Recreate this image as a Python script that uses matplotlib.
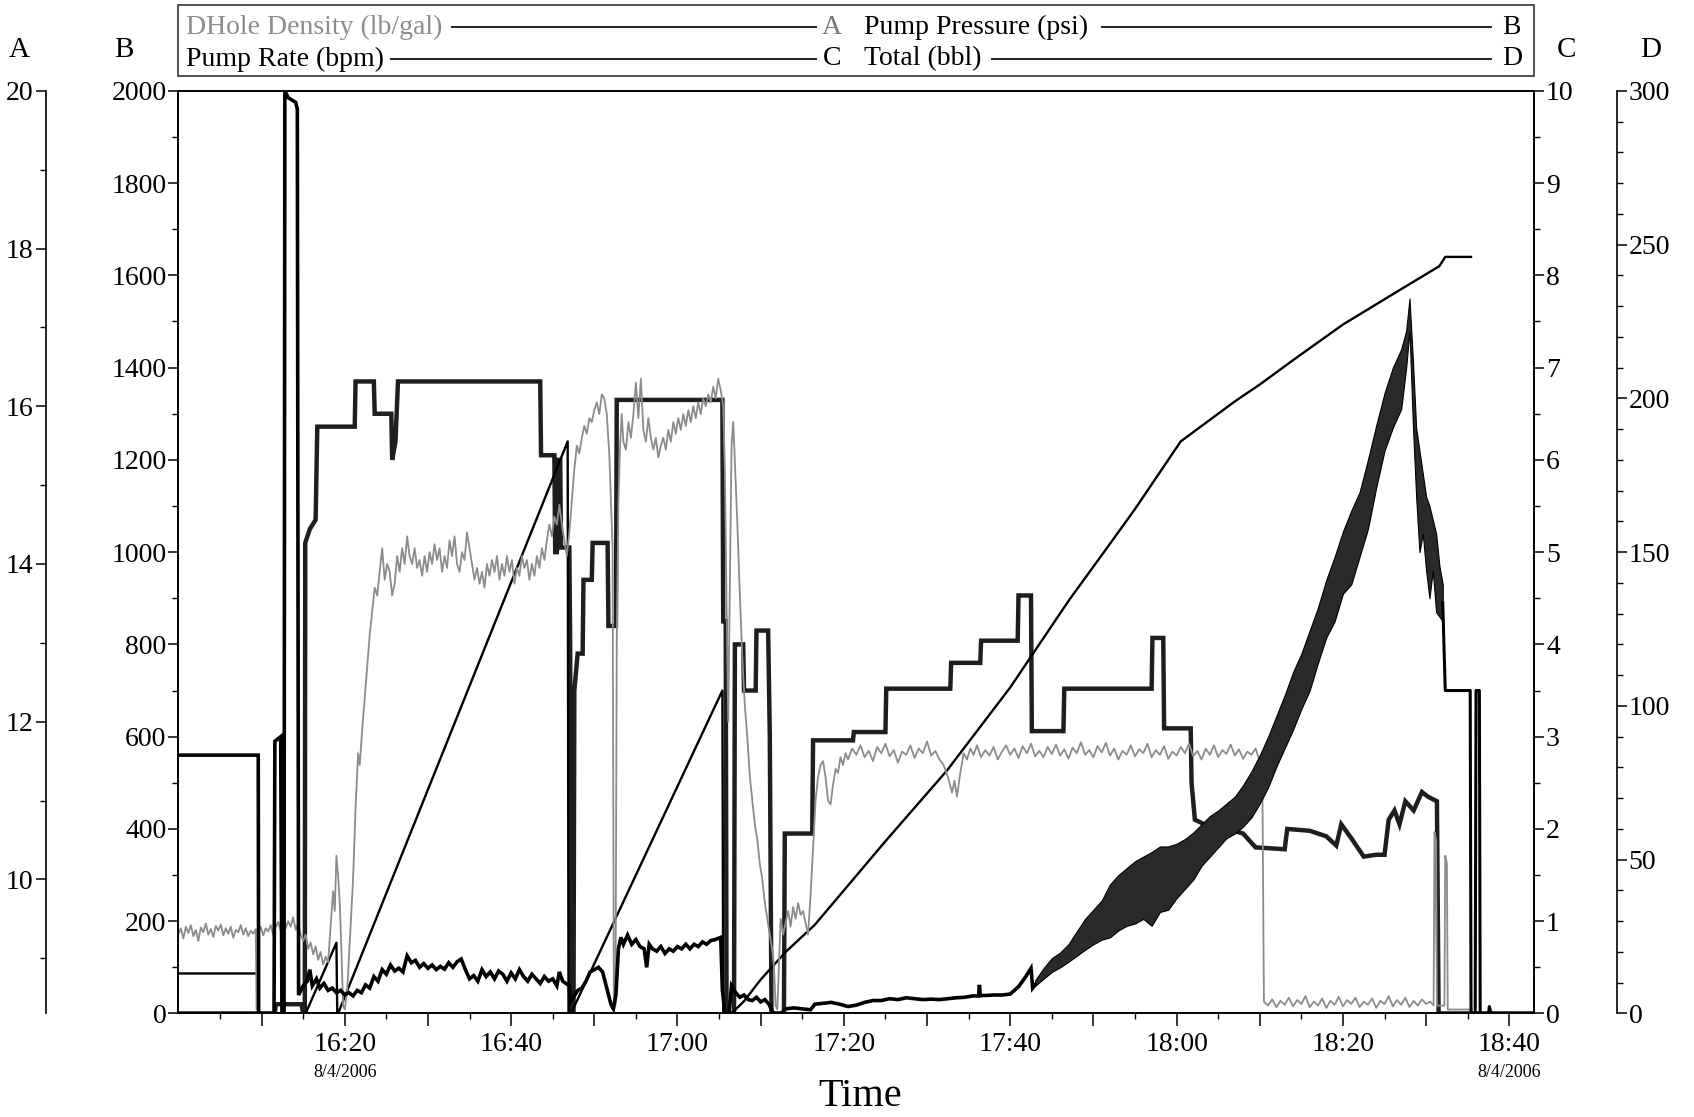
import numpy as np
import matplotlib.pyplot as plt
from matplotlib.ticker import MultipleLocator, FixedLocator, FuncFormatter
from matplotlib.patches import Rectangle
from matplotlib.lines import Line2D

plt.rcParams['font.family'] = ['Liberation Serif', 'DejaVu Serif']

# time in minutes after 16:00 on 8/4/2006
tick_times = [20, 40, 60, 80, 100, 120, 140, 160]
tick_labels = ['16:20', '16:40', '17:00', '17:20', '17:40', '18:00', '18:20', '18:40']

# DHole Density (lb/gal) -> axis A
dens = [
    (0.0, 9.30), (0.3, 9.38), (0.6, 9.25), (0.9, 9.40), (1.2, 9.32), (1.5, 9.42), (1.8, 9.28), (2.1, 9.36),
    (2.4, 9.22), (2.7, 9.39), (3.0, 9.33), (3.3, 9.44), (3.6, 9.30), (3.9, 9.37), (4.2, 9.27), (4.5, 9.41),
    (4.8, 9.35), (5.1, 9.43), (5.4, 9.29), (5.7, 9.38), (6.0, 9.31), (6.3, 9.40), (6.6, 9.26), (6.9, 9.36),
    (7.2, 9.33), (7.5, 9.42), (7.8, 9.30), (8.1, 9.38), (8.4, 9.28), (8.7, 9.35), (9.0, 9.31), (9.3, 9.37),
    (9.4, 8.35), (9.55, 8.35), (9.65, 9.33), (9.9, 9.40), (10.2, 9.29), (10.5, 9.38), (10.8, 9.34), (11.1, 9.42),
    (11.4, 9.30), (11.7, 9.39), (12.0, 9.46), (12.3, 9.35), (12.6, 9.50), (12.9, 9.38), (13.2, 9.47), (13.5, 9.40),
    (13.8, 9.52), (14.1, 9.36), (14.4, 9.44), (14.7, 9.30), (15.0, 9.22), (15.3, 9.30), (15.6, 9.12), (15.9, 9.20),
    (16.2, 9.05), (16.5, 9.15), (16.8, 8.98), (17.1, 9.08), (17.4, 8.92), (17.7, 9.02), (18.0, 8.95), (18.3, 9.40),
    (18.6, 9.85), (18.8, 9.60), (19.0, 10.30), (19.2, 10.05), (19.4, 9.70), (19.6, 9.10), (19.8, 8.40), (20.0, 8.35),
    (20.3, 8.60), (20.6, 9.20), (21.0, 10.0), (21.3, 10.9), (21.6, 11.6), (21.8, 11.45), (22.1, 11.9), (22.4, 12.3),
    (22.7, 12.7), (23.0, 13.1), (23.3, 13.4), (23.6, 13.7), (23.9, 13.6), (24.2, 13.9), (24.5, 14.2), (24.8, 13.8),
    (25.1, 14.0), (25.4, 13.9), (25.7, 13.6), (26.0, 13.75), (26.3, 14.1), (26.6, 13.9), (26.9, 14.2), (27.2, 14.0),
    (27.5, 14.35), (27.8, 14.1), (28.1, 14.0), (28.4, 14.2), (28.7, 13.95), (29.0, 14.05), (29.3, 13.85), (29.6, 14.1),
    (29.9, 13.9), (30.2, 14.15), (30.5, 14.0), (30.8, 14.25), (31.1, 14.05), (31.4, 14.2), (31.7, 13.9), (32.0, 14.1),
    (32.3, 13.95), (32.6, 14.3), (32.9, 14.1), (33.2, 14.35), (33.5, 14.0), (33.8, 13.9), (34.1, 14.15), (34.4, 14.05),
    (34.7, 14.4), (35.0, 14.2), (35.3, 14.0), (35.6, 13.8), (35.9, 13.95), (36.2, 13.75), (36.5, 13.9), (36.8, 13.7),
    (37.1, 14.0), (37.4, 13.85), (37.7, 14.05), (38.0, 13.9), (38.3, 14.1), (38.6, 13.8), (38.9, 14.0), (39.2, 13.85),
    (39.5, 14.1), (39.8, 13.9), (40.1, 14.05), (40.4, 13.75), (40.7, 13.95), (41.0, 13.85), (41.3, 14.1), (41.6, 13.95),
    (41.9, 14.05), (42.2, 13.8), (42.5, 14.0), (42.8, 13.85), (43.1, 14.1), (43.4, 13.95), (43.7, 14.2), (44.0, 14.05),
    (44.3, 14.3), (44.6, 14.5), (44.9, 14.35), (45.2, 14.6), (45.5, 14.5), (45.8, 14.75), (46.1, 14.5), (46.4, 14.3),
    (46.7, 14.1), (47.0, 14.4), (47.3, 14.8), (47.6, 15.2), (47.9, 15.5), (48.2, 15.4), (48.5, 15.6), (48.8, 15.75),
    (49.1, 15.65), (49.4, 15.85), (49.7, 15.8), (50.0, 15.95), (50.3, 16.05), (50.6, 15.9), (50.9, 16.15), (51.2, 16.1),
    (51.5, 15.9), (51.8, 15.4), (52.0, 14.8), (52.2, 14.2), (52.35, 8.4), (52.55, 8.4), (52.7, 13.0), (52.9, 14.8),
    (53.1, 15.5), (53.3, 15.9), (53.5, 15.55), (53.8, 15.45), (54.1, 15.8), (54.4, 15.6), (54.7, 15.9), (55.0, 16.3),
    (55.3, 15.85), (55.6, 16.35), (55.9, 15.7), (56.2, 15.55), (56.5, 15.85), (56.8, 15.6), (57.1, 15.45), (57.4, 15.6),
    (57.7, 15.35), (58.0, 15.5), (58.3, 15.6), (58.6, 15.45), (58.9, 15.7), (59.2, 15.55), (59.5, 15.8), (59.8, 15.65),
    (60.1, 15.85), (60.4, 15.7), (60.7, 15.9), (61.0, 15.75), (61.3, 15.95), (61.6, 15.8), (61.9, 16.0), (62.2, 15.85),
    (62.5, 16.05), (62.8, 15.9), (63.1, 16.1), (63.4, 16.0), (63.7, 16.15), (64.0, 16.05), (64.3, 16.25), (64.6, 16.1),
    (64.9, 16.35), (65.2, 16.2), (65.5, 16.0), (65.7, 15.2), (65.9, 13.5), (66.1, 12.0), (66.3, 13.8), (66.5, 15.5),
    (66.7, 15.8), (66.9, 15.3), (67.2, 14.5), (67.5, 13.6), (67.8, 12.8), (68.1, 12.2), (68.4, 11.8), (68.7, 11.3),
    (69.0, 11.0), (69.3, 10.7), (69.6, 10.5), (69.9, 10.2), (70.2, 10.0), (70.5, 9.7), (70.8, 9.5), (71.1, 9.3),
    (71.4, 9.1), (71.6, 8.9), (71.8, 8.4), (72.0, 8.35), (72.2, 8.9), (72.4, 9.5), (72.7, 9.3), (73.0, 9.45),
    (73.3, 9.6), (73.6, 9.4), (73.9, 9.65), (74.2, 9.5), (74.5, 9.7), (74.8, 9.55), (75.1, 9.6), (75.4, 9.45),
    (75.7, 9.3), (76.0, 9.8), (76.3, 10.4), (76.6, 11.0), (76.9, 11.3), (77.2, 11.45), (77.5, 11.5), (77.8, 11.3),
    (78.1, 11.0), (78.4, 10.95), (78.7, 11.2), (79.0, 11.4), (79.3, 11.35), (79.6, 11.55), (79.9, 11.45), (80.2, 11.6),
    (80.5, 11.52), (81.0, 11.66), (81.5, 11.58), (82.0, 11.70), (82.5, 11.55), (83.0, 11.63), (83.5, 11.50), (84.0, 11.68),
    (84.5, 11.60), (85.0, 11.72), (85.5, 11.56), (86.0, 11.64), (86.5, 11.48), (87.0, 11.62), (87.5, 11.58), (88.0, 11.70),
    (88.5, 11.54), (89.0, 11.66), (89.5, 11.60), (90.0, 11.75), (90.5, 11.57), (91.0, 11.63), (91.5, 11.52), (92.0, 11.45),
    (92.5, 11.30), (93.0, 11.10), (93.3, 11.25), (93.6, 11.05), (94.0, 11.35), (94.4, 11.60), (94.8, 11.52), (95.2, 11.66),
    (95.6, 11.58), (96.0, 11.70), (96.5, 11.55), (97.0, 11.64), (97.5, 11.57), (98.0, 11.68), (98.5, 11.52), (99.0, 11.62),
    (99.5, 11.70), (100.0, 11.58), (100.5, 11.66), (101.0, 11.54), (101.5, 11.69), (102.0, 11.60), (102.5, 11.72), (103.0, 11.56),
    (103.5, 11.63), (104.0, 11.55), (104.5, 11.68), (105.0, 11.59), (105.5, 11.71), (106.0, 11.57), (106.5, 11.65), (107.0, 11.53),
    (107.5, 11.67), (108.0, 11.60), (108.5, 11.74), (109.0, 11.58), (109.5, 11.64), (110.0, 11.55), (110.5, 11.69), (111.0, 11.61),
    (111.5, 11.73), (112.0, 11.57), (112.5, 11.66), (113.0, 11.52), (113.5, 11.63), (114.0, 11.58), (114.5, 11.70), (115.0, 11.56),
    (115.5, 11.65), (116.0, 11.60), (116.5, 11.72), (117.0, 11.55), (117.5, 11.64), (118.0, 11.58), (118.5, 11.69), (119.0, 11.53),
    (119.5, 11.62), (120.0, 11.57), (120.5, 11.68), (121.0, 11.60), (121.5, 11.72), (122.0, 11.56), (122.5, 11.63), (123.0, 11.52),
    (123.5, 11.66), (124.0, 11.58), (124.5, 11.70), (125.0, 11.55), (125.5, 11.64), (126.0, 11.59), (126.5, 11.71), (127.0, 11.57),
    (127.5, 11.65), (128.0, 11.53), (128.5, 11.62), (129.0, 11.58), (129.5, 11.66), (130.0, 11.50), (130.3, 11.45), (130.5, 8.45),
    (131.0, 8.40), (131.5, 8.48), (132.0, 8.38), (132.5, 8.46), (133.0, 8.41), (133.5, 8.50), (134.0, 8.39), (134.5, 8.47),
    (135.0, 8.42), (135.5, 8.52), (136.0, 8.38), (136.5, 8.45), (137.0, 8.40), (137.5, 8.49), (138.0, 8.37), (138.5, 8.46),
    (139.0, 8.41), (139.5, 8.51), (140.0, 8.39), (140.5, 8.47), (141.0, 8.42), (141.5, 8.50), (142.0, 8.38), (142.5, 8.45),
    (143.0, 8.41), (143.5, 8.49), (144.0, 8.37), (144.5, 8.46), (145.0, 8.42), (145.5, 8.52), (146.0, 8.39), (146.5, 8.47),
    (147.0, 8.41), (147.5, 8.50), (148.0, 8.38), (148.5, 8.46), (149.0, 8.40), (149.5, 8.48), (150.0, 8.42), (150.5, 8.45),
    (150.9, 8.40), (151.0, 10.6), (151.2, 10.5), (151.3, 8.40), (152.2, 8.40), (152.3, 10.3), (152.5, 10.2), (152.6, 8.35),
    (155.5, 8.35),
]

# Pump Pressure (psi) -> axis B
pres = [
    (0, 560), (9.6, 560), (9.65, 0), (11.5, 0), (11.6, 590), (12.3, 600), (12.45, 0), (12.7, 0), (12.8, 2000),
    (13.2, 1985), (14.1, 1975), (14.3, 1960), (14.45, 40), (15.0, 60), (15.5, 70), (15.8, 95), (16.1, 60), (16.6, 75),
    (17.0, 55), (17.5, 65), (18.0, 50), (18.5, 55), (19.0, 45), (19.5, 50), (20.0, 40), (20.5, 45), (21.0, 38),
    (21.5, 50), (22.0, 45), (22.5, 62), (23.0, 55), (23.5, 80), (24.0, 70), (24.5, 95), (25.0, 85), (25.5, 105),
    (26.0, 92), (26.5, 98), (27.0, 90), (27.5, 125), (28.0, 110), (28.5, 115), (29.0, 100), (29.5, 108), (30.0, 98),
    (30.5, 105), (31.0, 95), (31.5, 102), (32.0, 96), (32.5, 110), (33.0, 100), (33.5, 112), (34.0, 118), (34.5, 95),
    (35.0, 75), (35.5, 82), (36.0, 70), (36.5, 95), (37.0, 80), (37.5, 90), (38.0, 75), (38.5, 92), (39.0, 85),
    (39.5, 70), (40.0, 88), (40.5, 75), (41.0, 95), (41.5, 80), (42.0, 70), (42.5, 85), (43.0, 75), (43.5, 65),
    (44.0, 80), (44.5, 70), (45.0, 75), (45.5, 60), (45.8, 90), (46.2, 70), (46.6, 65), (47.0, 60), (47.1, 25),
    (47.5, 35), (48.0, 50), (48.5, 55), (49.0, 70), (49.5, 90), (50.0, 95), (50.5, 100), (51.0, 90), (51.5, 55),
    (52.0, 20), (52.3, 10), (52.6, 40), (52.9, 140), (53.2, 165), (53.5, 150), (54.0, 170), (54.5, 150), (55.0, 160),
    (55.5, 145), (56.0, 140), (56.3, 100), (56.6, 150), (57.0, 140), (57.5, 135), (58.0, 145), (58.5, 130), (59.0, 140),
    (59.5, 135), (60.0, 145), (60.5, 140), (61.0, 150), (61.5, 140), (62.0, 150), (62.5, 145), (63.0, 155), (63.5, 150),
    (64.0, 158), (64.5, 160), (65.2, 165), (65.4, 50), (65.7, 0), (66.2, 0), (66.5, 60), (67.0, 45), (67.5, 35),
    (68.0, 40), (68.5, 30), (69.0, 28), (69.5, 35), (70.0, 25), (70.5, 30), (71.0, 20), (71.5, 0), (72.5, 0),
    (73.0, 10), (74.0, 12), (75.0, 10), (76.0, 8), (76.5, 20), (77.5, 22), (78.5, 24), (79.5, 20), (80.5, 15),
    (81.5, 18), (82.5, 24), (83.5, 28), (84.5, 28), (85.5, 32), (86.5, 30), (87.5, 34), (88.5, 32), (89.5, 30),
    (90.5, 31), (91.5, 30), (92.5, 32), (93.5, 34), (94.5, 35), (95.5, 38), (96.2, 38), (96.3, 62), (96.4, 39),
    (97.0, 39), (98.0, 40), (99.0, 40), (100.0, 42), (101.0, 58), (101.8, 78), (102.5, 98), (102.7, 55), (103.0, 62),
]
pres_tail = [
    (152.0, 890), (152.3, 700), (155.3, 700), (155.4, 0), (155.9, 0), (156.0, 700), (156.4, 700), (156.5, 0),
    (157.5, 0), (157.6, 15), (157.8, 0), (163, 0),
]

# jagged pressure band 17:43 - 18:32 (lower / upper edge, psi)
band_t = [103, 104, 105, 106, 107, 108, 109, 110, 111, 112, 113, 114, 115, 116, 117, 118, 119, 120,
          121, 122, 123, 124, 125, 126, 127, 128, 129, 130, 131, 132, 133, 134, 135, 136, 137, 138,
          139, 140, 141, 142, 143, 144, 145, 146, 147, 147.6, 148.0, 148.4, 148.8, 149.2, 149.6, 150.0,
          150.4, 150.8, 151.2, 151.6, 152.0]
band_lo = [60, 75, 90, 100, 112, 125, 138, 150, 160, 165, 180, 190, 195, 205, 190, 220, 225, 250,
           270, 290, 320, 340, 360, 380, 390, 405, 425, 455, 490, 535, 575, 615, 660, 700, 760, 815,
           850, 910, 930, 990, 1050, 1140, 1220, 1270, 1310, 1400, 1480, 1280, 1120, 1000, 1040, 960,
           900, 960, 870, 860, 850]
band_hi = [72, 98, 120, 132, 150, 178, 205, 225, 245, 280, 300, 315, 330, 340, 350, 362, 362, 368,
           378, 392, 410, 428, 440, 455, 470, 495, 525, 560, 600, 645, 690, 740, 780, 830, 880, 940,
           990, 1045, 1090, 1130, 1200, 1275, 1345, 1400, 1440, 1480, 1550, 1420, 1270, 1220, 1170, 1120,
           1100, 1070, 1040, 970, 930]

# Pump Rate (bpm) -> axis C
rate = [
    (0, 0), (11.6, 0), (11.7, 0.1), (14.8, 0.1), (15.0, 0), (15.2, 0), (15.25, 5.1), (15.8, 5.25), (16.5, 5.35),
    (16.7, 6.36), (21.2, 6.36), (21.3, 6.85), (23.5, 6.85), (23.6, 6.5), (25.6, 6.5), (25.7, 6.0), (26.1, 6.2),
    (26.4, 6.85), (43.5, 6.85), (43.6, 6.05), (45.2, 6.05), (45.3, 5.0), (45.5, 5.0), (45.6, 6.0), (45.9, 6.0),
    (46.0, 5.05), (47.0, 5.05), (47.1, 4.0), (47.2, 0), (47.5, 0), (47.6, 3.5), (48.0, 3.9), (48.6, 3.9),
    (48.7, 4.7), (49.7, 4.7), (49.8, 5.1), (51.6, 5.1), (51.7, 4.2), (52.6, 4.2), (52.7, 6.65), (65.4, 6.65),
    (65.5, 4.25), (65.8, 4.25), (65.9, 0), (66.8, 0), (66.9, 4.0), (67.9, 4.0), (68.0, 3.5), (69.4, 3.5),
    (69.5, 4.15), (70.9, 4.15), (71.1, 3.0), (71.3, 0), (72.8, 0), (72.9, 1.95), (76.2, 1.95), (76.3, 2.96),
    (81.1, 2.96), (81.2, 3.05), (85.0, 3.05), (85.1, 3.52), (92.8, 3.52), (92.9, 3.8), (96.4, 3.8), (96.5, 4.04),
    (100.9, 4.04), (101.0, 4.53), (102.5, 4.53), (102.6, 3.06), (106.4, 3.06), (106.5, 3.52), (117.0, 3.52),
    (117.1, 4.07), (118.4, 4.07), (118.5, 3.09), (121.7, 3.09), (121.8, 2.5), (122.2, 2.1), (124, 2.02),
    (126, 2.0), (128, 1.95), (129.5, 1.8), (133, 1.78), (133.3, 2.0), (136, 1.98), (138, 1.92), (139.2, 1.82),
    (139.8, 2.05), (141, 1.9), (142.5, 1.7), (144, 1.72), (145, 1.72), (145.5, 2.1), (146.2, 2.2), (146.8, 2.05),
    (147.5, 2.3), (148.5, 2.2), (149.5, 2.4), (150.2, 2.35), (151.3, 2.3), (151.5, 0), (163, 0),
]

# Total (bbl) -> axis D
total = [
    (0, 13), (9.6, 13), (9.65, 0), (15.3, 0), (19.0, 23), (19.1, 0), (19.2, 0), (46.8, 186), (46.9, 0),
    (47.2, 0), (65.4, 105), (65.5, 0), (66.5, 0), (68, 4), (70, 11), (73, 20), (76.5, 28.8), (80, 40),
    (85, 56), (92.4, 79), (100, 106), (107.1, 134.5), (111, 149), (115, 164), (118, 176), (120.5, 186),
    (123, 191), (127, 199), (130, 204.5), (134.3, 213), (140, 224), (147.3, 236), (151.6, 243), (152.3, 246),
    (155.4, 246),
]

fig = plt.figure(figsize=(16.94, 11.17), dpi=100)
ax = fig.add_axes([0.1053, 0.0927, 0.8004, 0.826])
axA = ax.twinx()
axC = ax.twinx()
axD = ax.twinx()

FS = 20
for a in (ax, axA, axC, axD):
    for s in a.spines.values():
        s.set_linewidth(1.2)

axA.set_zorder(1)
ax.set_zorder(2)
ax.patch.set_visible(False)
ax.set_xlim(0, 163)
ax.set_ylim(0, 2000)
ax.yaxis.set_major_locator(MultipleLocator(200))
ax.yaxis.set_minor_locator(MultipleLocator(100))

# density axis A, far left
axA.set_ylim(8.3, 20)
axA.spines['left'].set_position(('axes', -0.098))
axA.spines['left'].set_visible(True)
axA.yaxis.set_label_position('left')
axA.yaxis.set_ticks_position('left')
for side in ('right', 'top', 'bottom'):
    axA.spines[side].set_visible(False)
axA.yaxis.set_major_locator(FixedLocator([10, 12, 14, 16, 18, 20]))
axA.yaxis.set_minor_locator(FixedLocator([9, 11, 13, 15, 17, 19]))

# rate axis C on right
axC.set_ylim(0, 10)
axC.yaxis.set_major_locator(MultipleLocator(1))
axC.yaxis.set_minor_locator(MultipleLocator(0.5))

# total axis D, far right
axD.set_ylim(0, 300)
axD.spines['right'].set_position(('axes', 1.061))
axD.yaxis.set_major_locator(MultipleLocator(50))
axD.yaxis.set_minor_locator(MultipleLocator(10))
for side in ('left', 'top', 'bottom'):
    axD.spines[side].set_visible(False)

for a in (ax, axA, axC, axD):
    a.tick_params(which='major', direction='out', length=7, width=1.1, labelsize=FS, pad=1.5)
    a.tick_params(which='minor', direction='out', length=4, width=1.0)

ax.xaxis.set_major_locator(FixedLocator([10, 20, 30, 40, 50, 60, 70, 80, 90, 100, 110, 120, 130, 140, 150, 160]))
ax.xaxis.set_minor_locator(FixedLocator([5, 15, 25, 35, 45, 55, 65, 75, 85, 95, 105, 115, 125, 135, 145, 155]))
lab_map = dict(zip(tick_times, tick_labels))
ax.xaxis.set_major_formatter(FuncFormatter(lambda v, p: lab_map.get(int(round(v)), '')))
ax.tick_params(axis='x', which='major', length=9, pad=4)

# series
dt, dv = zip(*dens)
axA.plot(dt, dv, color='#8c8c8c', lw=1.3)

pt, pv = zip(*pres)
ax.plot(pt, pv, color='black', lw=2.6, solid_joinstyle='miter')
ax.fill_between(band_t, band_lo, band_hi, color='#2a2a2a', lw=0.8, edgecolor='black')
tt, tv = zip(*pres_tail)
ax.plot(tt, tv, color='black', lw=2.2)

rt, rv = zip(*rate)
axC.plot(rt, rv, color='#1e1e1e', lw=3.2, solid_joinstyle='miter')

tot_t, tot_v = zip(*total)
axD.plot(tot_t, tot_v, color='black', lw=1.7)

# date under first/last labels
x0 = ax.get_position().x0
fig.text(x0 + 0.8004 * 20 / 163, 0.040, '8/4/2006', ha='center', va='center', fontsize=13)
fig.text(x0 + 0.8004 * 160 / 163, 0.040, '8/4/2006', ha='center', va='center', fontsize=13)
fig.text(0.508, 0.018, 'Time', ha='center', va='center', fontsize=29)

# axis letters
for x, s in [(0.0115, 'A'), (0.0733, 'B'), (0.9248, 'C'), (0.9745, 'D')]:
    fig.text(x, 0.9555, s, ha='center', va='center', fontsize=21)

# legend box
fig.patches.append(Rectangle((0.1053, 0.9323), 0.8004, 0.0628, transform=fig.transFigure,
                             fill=False, edgecolor='#333333', lw=1.2))
rows = [
    (0.9755, 'DHole Density (lb/gal)', '#8c8c8c', 0.2666, 'A', 'Pump Pressure (psi)', 0.6505, 'B'),
    (0.9472, 'Pump Rate (bpm)', 'black', 0.2309, 'C', 'Total (bbl)', 0.5855, 'D'),
]
for y, t1, c1, l1, k1, t2, l2, k2 in rows:
    fig.text(0.1097, y, t1, color=c1, fontsize=FS, va='center', ha='left')
    fig.lines.append(Line2D([l1, 0.4815], [y, y], transform=fig.transFigure, color='#222222', lw=1.4))
    fig.text(0.491, y, k1, fontsize=FS, va='center', ha='center', color='#777777' if k1 == 'A' else 'black')
    fig.text(0.510, y, t2, fontsize=FS, va='center', ha='left')
    fig.lines.append(Line2D([l2, 0.880], [y, y], transform=fig.transFigure, color='#222222', lw=1.4))
    fig.text(0.8925, y, k2, fontsize=FS, va='center', ha='center')

fig.savefig('out.png', dpi=100)
